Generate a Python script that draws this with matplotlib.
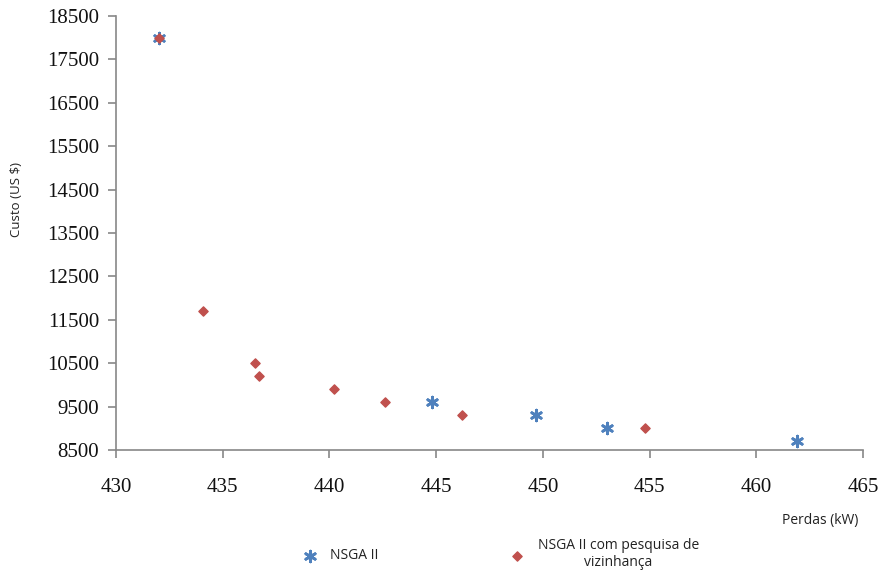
import matplotlib.pyplot as plt

# dados
perdas_nsga = [432.0, 444.8, 449.7, 453.0, 461.9]
custo_nsga = [18000, 9600, 9300, 9000, 8700]

perdas_viz = [432.0, 434.1, 436.5, 436.7, 440.2, 442.6, 446.2, 454.8]
custo_viz = [18000, 11700, 10500, 10200, 9900, 9600, 9300, 9000]

xticks = [430, 435, 440, 445, 450, 455, 460, 465]
yticks = [8500, 9500, 10500, 11500, 12500, 13500, 14500, 15500, 16500, 17500, 18500]

azul = '#4F81BD'
vermelho = '#C0504D'
cinza = '#888888'

fig = plt.figure(figsize=(8.82, 5.78), dpi=100)
ax = fig.add_axes([0.1315, 0.2215, 0.847, 0.7509])

ax.scatter(perdas_nsga, custo_nsga, marker=(6, 2, 0), s=60, color=azul,
           linewidths=2, label='NSGA II', zorder=3)
ax.scatter(perdas_viz, custo_viz, marker='D', s=22, color=vermelho,
           label='NSGA II com pesquisa de\nvizinhança', zorder=4)

ax.set_xlim(430, 465)
ax.set_ylim(8500, 18500)
ax.set_xticks(xticks)
ax.set_yticks(yticks)

for s in ('top', 'right'):
    ax.spines[s].set_visible(False)
for s in ('left', 'bottom'):
    ax.spines[s].set_color(cinza)
    ax.spines[s].set_linewidth(1.2)
ax.tick_params(colors=cinza, length=6, width=1.2, labelcolor='#111111',
               labelsize=15)
ax.tick_params(axis='x', pad=14)
ax.tick_params(axis='y', pad=6)
for lab in ax.get_xticklabels() + ax.get_yticklabels():
    lab.set_fontfamily('Liberation Serif')

fig.text(0.019, 0.654, 'Custo (US $)', rotation=90, ha='center', va='center',
         fontsize=9.5, family='Open Sans', color='#222222')
fig.text(0.93, 0.10, 'Perdas (kW)', ha='center', va='center',
         fontsize=10, family='Open Sans', color='#222222')

leg = fig.legend(loc='center', bbox_to_anchor=(0.564, 0.042), ncol=2,
                 frameon=False, columnspacing=9, handletextpad=0.45,
                 prop={'family': 'Open Sans', 'size': 10})
for t in leg.get_texts():
    t.set_multialignment('center')
    t.set_color('#222222')

fig.savefig('out.png', dpi=100)
